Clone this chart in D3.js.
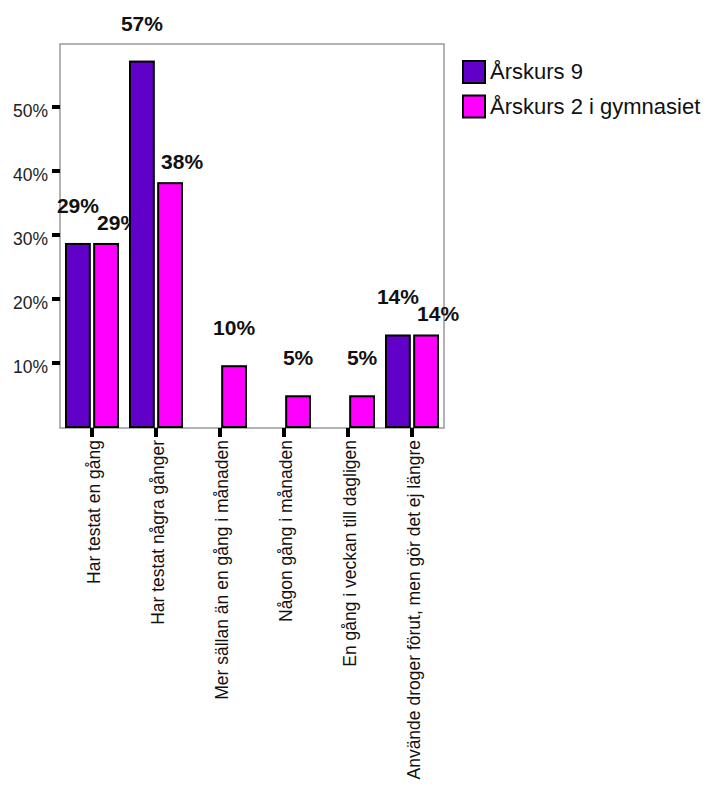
<!DOCTYPE html>
<html>
<head>
<meta charset="utf-8">
<script src="https://cdn.jsdelivr.net/npm/d3@7"></script>
<style>
  html, body { margin: 0; padding: 0; background: #fff; }
  text { font-family: "Liberation Sans", Arial, sans-serif; }
</style>
</head>
<body>
<svg id="chart" width="711" height="788"></svg>
<script>
const categories = [
  "Har testat en gång",
  "Har testat några gånger",
  "Mer sällan än en gång i månaden",
  "Någon gång i månaden",
  "En gång i veckan till dagligen",
  "Använde droger förut, men gör det ej längre"
];
const seriesNames = ["Årskurs 9", "Årskurs 2 i gymnasiet"];
const arskurs9 = [28.6, 57.1, 0, 0, 0, 14.3];
const gymnasiet2 = [28.6, 38.1, 9.5, 4.8, 4.8, 14.3];
const yTicks = [10, 20, 30, 40, 50];
const colors = ["#6000c8", "#ff00ff"];

const svg = d3.select("#chart");
const plotL = 60, plotR = 444, plotT = 43, plotB = 427;

const x0 = d3.scaleBand().domain(categories).range([plotL, plotR]).padding(0);
const x1 = d3.scaleBand().domain(seriesNames).range([6, x0.bandwidth() - 6]).paddingInner(0.154);
const y = d3.scaleLinear().domain([0, 60]).range([plotB, plotT]);

// frame
svg.append("rect")
  .attr("x", plotL).attr("y", plotT + 1)
  .attr("width", plotR - plotL).attr("height", plotB - plotT)
  .attr("fill", "none").attr("stroke", "#999").attr("stroke-width", 1.5);

// y ticks
const yAxis = svg.append("g");
yAxis.selectAll("rect").data(yTicks).join("rect")
  .attr("x", 52).attr("y", d => y(d) - 2).attr("width", 8).attr("height", 4)
  .attr("fill", "#000");
yAxis.selectAll("text").data(yTicks).join("text")
  .attr("x", 48).attr("y", d => y(d) + 10)
  .attr("text-anchor", "end").attr("font-size", 17.5).attr("fill", "#222")
  .text(d => d + "%");

// bars
const data = categories.map((c, i) => ({
  cat: c,
  vals: [
    { s: seriesNames[0], v: arskurs9[i], k: 0 },
    { s: seriesNames[1], v: gymnasiet2[i], k: 1, paired: arskurs9[i] > 0 }
  ]
}));

const groups = svg.append("g").selectAll("g").data(data).join("g")
  .attr("transform", d => `translate(${x0(d.cat)},0)`);

groups.selectAll("rect").data(d => d.vals.filter(e => e.v > 0)).join("rect")
  .attr("x", d => x1(d.s)).attr("width", x1.bandwidth())
  .attr("y", d => y(d.v)).attr("height", d => y(0) - y(d.v))
  .attr("fill", d => colors[d.k]).attr("stroke", "#000").attr("stroke-width", 2);

groups.selectAll("text").data(d => d.vals.filter(e => e.v > 0)).join("text")
  .attr("x", d => x1(d.s) + x1.bandwidth() / 2 + (d.k === 1 && d.paired ? 12 : 0))
  .attr("y", d => y(d.v) - (d.k === 1 && d.paired ? 14 : 31))
  .attr("text-anchor", "middle").attr("font-size", 21).attr("font-weight", "bold")
  .attr("fill", "#111")
  .text(d => Math.round(d.v) + "%");

// x ticks and labels
const xAxis = svg.append("g");
xAxis.selectAll("rect").data(categories).join("rect")
  .attr("x", d => x0(d) + x0.bandwidth() / 2 - 2).attr("y", plotB + 1)
  .attr("width", 4).attr("height", 9).attr("fill", "#000");
xAxis.selectAll("text").data(categories).join("text")
  .attr("transform", d => `translate(${x0(d) + x0.bandwidth() / 2 + 2},${plotB + 13}) rotate(-90)`)
  .attr("text-anchor", "end").attr("dy", "0.35em")
  .attr("font-size", 17.5).attr("fill", "#111")
  .text(d => d);

// legend
const legend = svg.append("g").selectAll("g").data(seriesNames).join("g")
  .attr("transform", (d, i) => `translate(463,${61 + i * 34.5})`);
legend.append("rect").attr("width", 22).attr("height", 22)
  .attr("fill", (d, i) => colors[i]).attr("stroke", "#000").attr("stroke-width", 2);
legend.append("text").attr("x", 27).attr("y", 18)
  .attr("font-size", 22).attr("fill", "#111").text(d => d);
</script>
</body>
</html>
